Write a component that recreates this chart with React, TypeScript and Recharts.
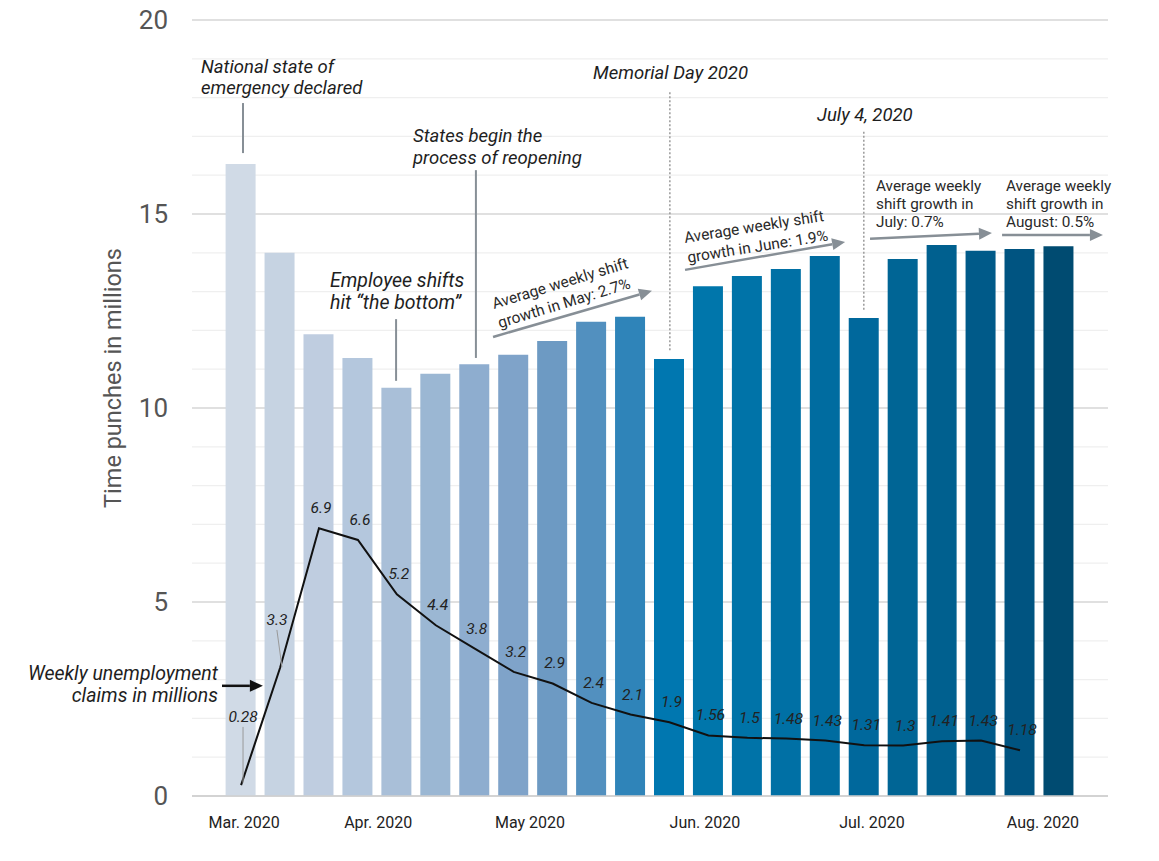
import React from 'react'
import {
  ComposedChart,
  Bar,
  Line,
  XAxis,
  YAxis,
  CartesianGrid,
  ReferenceLine,
  LabelList,
  Cell
} from 'recharts'

// weekly data, Mar - Aug 2020
const weeks = [0, 1, 2, 3, 4, 5, 6, 7, 8, 9, 10, 11, 12, 13, 14, 15, 16, 17, 18, 19, 20, 21]
const timePunches = [
  16.29, 14.0, 11.9, 11.29, 10.52, 10.88, 11.13, 11.37, 11.73, 12.22, 12.35,
  11.26, 13.14, 13.4, 13.58, 13.92, 12.32, 13.84, 14.2, 14.05, 14.1, 14.17
]
const claims = [
  0.28, 3.3, 6.9, 6.6, 5.2, 4.4, 3.8, 3.2, 2.9, 2.4, 2.1, 1.9, 1.56, 1.5,
  1.48, 1.43, 1.31, 1.3, 1.41, 1.43, 1.18, null
]
const claimLabels = [
  '0.28', '3.3', '6.9', '6.6', '5.2', '4.4', '3.8', '3.2', '2.9', '2.4', '2.1',
  '1.9', '1.56', '1.5', '1.48', '1.43', '1.31', '1.3', '1.41', '1.43', '1.18', ''
]
const monthTicks = [0.08, 3.52, 7.42, 11.91, 16.2, 20.59]
const monthLabels = ['Mar. 2020', 'Apr. 2020', 'May 2020', 'Jun. 2020', 'Jul. 2020', 'Aug. 2020']
const yTicks = [0, 1, 2, 3, 4, 5, 6, 7, 8, 9, 10, 11, 12, 13, 14, 15, 16, 17, 18, 19, 20]

const barColors = [
  '#d0dae6', '#c6d3e2', '#bfcde0', '#b4c7dd', '#a9bfd8', '#9bb7d3', '#8eadcf',
  '#7fa3c9', '#6d9ac3', '#5290bf', '#2f84b9', '#0077b0', '#0076ab', '#0073a8',
  '#0070a5', '#006ca0', '#00689c', '#006595', '#00608f', '#005a89', '#005481',
  '#004b71'
]

const data = weeks.map((week, i) => ({
  week,
  punches: timePunches[i],
  claims: claims[i],
  label: claimLabels[i]
}))

const FONT = 'Roboto, "Open Sans", sans-serif'
const GRAY = '#878f96'

// reference line drawn with an arrow head at its end
const arrowShape = (color: string, width: number) => (p: any) => {
  const { x1, y1, x2, y2 } = p
  const a = Math.atan2(y2 - y1, x2 - x1)
  const len = 13
  const half = 6
  const bx = x2 - len * Math.cos(a)
  const by = y2 - len * Math.sin(a)
  const px = -Math.sin(a) * half
  const py = Math.cos(a) * half
  return (
    <g>
      <line x1={x1} y1={y1} x2={bx} y2={by} stroke={color} strokeWidth={width} />
      <polygon
        points={`${x2},${y2} ${bx + px},${by + py} ${bx - px},${by - py}`}
        fill={color}
      />
    </g>
  )
}

const ClaimLabel = (props: any) => {
  const { x, y, index } = props
  const text = claimLabels[index]
  if (!text) return null
  let tx = x + 2
  let ty = y - 15
  if (index === 0) {
    tx = x + 2
    ty = y - 63
  } else if (index === 1) {
    tx = x - 3
    ty = y - 43
  }
  return (
    <text
      x={tx}
      y={ty}
      textAnchor="middle"
      fontFamily={FONT}
      fontStyle="italic"
      fontSize={15.5}
      fill="#222"
    >
      {text}
    </text>
  )
}

const gridLine = (p: any) => {
  const major = p.index % 5 === 0
  return (
    <line
      key={p.key}
      x1={p.x1}
      x2={p.x2}
      y1={p.y1}
      y2={p.y2}
      stroke={major ? '#d6d6d6' : '#efefef'}
      strokeWidth={major ? 1.5 : 1.2}
    />
  )
}

const note = { fontFamily: FONT, fontStyle: 'italic', fontSize: 18.5, fill: '#1e1e1e' } as const
const noteBig = { ...note, fontSize: 19.5 } as const
const growth = { fontFamily: FONT, fontSize: 15.5, fill: '#2a2a2a' } as const
const growthSmall = { fontFamily: FONT, fontSize: 15.3, fill: '#2a2a2a' } as const

export default function App() {
  return (
    <div style={{ position: 'relative', width: 1159, height: 861, background: '#fff' }}>
      <style>{'body{margin:0}'}</style>
      <ComposedChart
        width={1159}
        height={861}
        data={data}
        margin={{ top: 20, right: 51, bottom: 0, left: 0 }}
      >
        <CartesianGrid vertical={false} horizontal={gridLine} />
        <XAxis
          type="number"
          dataKey="week"
          domain={[-1.26, 22.26]}
          ticks={monthTicks}
          interval={0}
          allowDataOverflow
          height={65}
          axisLine={false}
          tickLine={false}
          tickMargin={15}
          tickFormatter={(v: number) => monthLabels[monthTicks.indexOf(v)] ?? ''}
          tick={{ fontSize: 16, fill: '#222', fontFamily: FONT }}
        />
        <YAxis
          type="number"
          domain={[0, 20]}
          ticks={yTicks}
          interval={0}
          width={192}
          axisLine={false}
          tickLine={false}
          tickMargin={18}
          tickFormatter={(v: number) => (v % 5 === 0 ? String(v) : '')}
          tick={{ fontSize: 26, fill: '#555', fontFamily: FONT }}
        />
        <Bar dataKey="punches" barSize={30} isAnimationActive={false}>
          {data.map((d, i) => (
            <Cell key={d.week} fill={barColors[i]} />
          ))}
        </Bar>
        <Line
          type="linear"
          dataKey="claims"
          stroke="#111"
          strokeWidth={2}
          dot={false}
          activeDot={false}
          isAnimationActive={false}
        >
          <LabelList dataKey="label" content={ClaimLabel} />
        </Line>

        {/* leader lines */}
        <ReferenceLine segment={[{ x: 0.05, y: 16.57 }, { x: 0.05, y: 17.86 }]} stroke={GRAY} strokeWidth={2} />
        <ReferenceLine segment={[{ x: 3.98, y: 10.7 }, { x: 3.98, y: 12.29 }]} stroke={GRAY} strokeWidth={2} />
        <ReferenceLine segment={[{ x: 6.03, y: 11.29 }, { x: 6.03, y: 16.13 }]} stroke={GRAY} strokeWidth={2} />
        <ReferenceLine segment={[{ x: 11.01, y: 11.49 }, { x: 11.01, y: 18.14 }]} stroke="#9a9a9a" strokeWidth={1.5} strokeDasharray="2 2" />
        <ReferenceLine segment={[{ x: 15.99, y: 12.53 }, { x: 15.99, y: 17.16 }]} stroke="#9a9a9a" strokeWidth={1.5} strokeDasharray="2 2" />
        <ReferenceLine segment={[{ x: 0.05, y: 0.34 }, { x: 0.05, y: 1.78 }]} stroke="#999" strokeWidth={1} />
        <ReferenceLine segment={[{ x: 0.92, y: 4.28 }, { x: 1.05, y: 3.32 }]} stroke="#999" strokeWidth={1} />

        {/* growth arrows */}
        <ReferenceLine segment={[{ x: 6.47, y: 11.83 }, { x: 10.55, y: 13.02 }]} shape={arrowShape(GRAY, 2.5)} />
        <ReferenceLine segment={[{ x: 11.4, y: 13.56 }, { x: 15.51, y: 14.28 }]} shape={arrowShape(GRAY, 2.5)} />
        <ReferenceLine segment={[{ x: 16.15, y: 14.36 }, { x: 19.28, y: 14.51 }]} shape={arrowShape(GRAY, 2.5)} />
        <ReferenceLine segment={[{ x: 19.54, y: 14.46 }, { x: 22.13, y: 14.46 }]} shape={arrowShape(GRAY, 2.5)} />
        <ReferenceLine segment={[{ x: -0.49, y: 2.84 }, { x: 0.56, y: 2.84 }]} shape={arrowShape('#111', 2.5)} />
      </ComposedChart>

      <svg
        width={1159}
        height={861}
        style={{ position: 'absolute', left: 0, top: 0, pointerEvents: 'none' }}
      >
        <line x1={192} x2={1108} y1={796} y2={796} stroke="#cfcfcf" strokeWidth={1.5} />
        <text
          x={113}
          y={378}
          transform="rotate(-90 113 378)"
          textAnchor="middle"
          dominantBaseline="central"
          fontFamily={FONT}
          fontSize={23.5}
          fill="#555"
        >
          Time punches in millions
        </text>

        <text x={201} y={73} {...note}>National state of</text>
        <text x={201} y={94} {...note}>emergency declared</text>

        <text x={330} y={287} {...noteBig}>Employee shifts</text>
        <text x={330} y={309} {...noteBig}>hit “the bottom”</text>

        <text x={413} y={142} {...note}>States begin the</text>
        <text x={413} y={164} {...note}>process of reopening</text>

        <text x={593} y={79} {...note}>Memorial Day 2020</text>
        <text x={817} y={121} {...note}>July 4, 2020</text>

        <text x={218} y={680} textAnchor="end" {...noteBig}>Weekly unemployment</text>
        <text x={218} y={702} textAnchor="end" {...noteBig}>claims in millions</text>

        <g transform="rotate(-17 494 309)">
          <text x={494} y={309} {...growth}>Average weekly shift</text>
          <text x={494} y={329} {...growth}>growth in May: 2.7%</text>
        </g>
        <g transform="rotate(-9 685 243)">
          <text x={685} y={243} {...growth}>Average weekly shift</text>
          <text x={685} y={263} {...growth}>growth in June: 1.9%</text>
        </g>

        <text x={876} y={191} {...growthSmall}>Average weekly</text>
        <text x={876} y={209} {...growthSmall}>shift growth in</text>
        <text x={876} y={227} {...growthSmall}>July: 0.7%</text>

        <text x={1006} y={191} {...growthSmall}>Average weekly</text>
        <text x={1006} y={209} {...growthSmall}>shift growth in</text>
        <text x={1006} y={227} {...growthSmall}>August: 0.5%</text>
      </svg>
    </div>
  )
}
